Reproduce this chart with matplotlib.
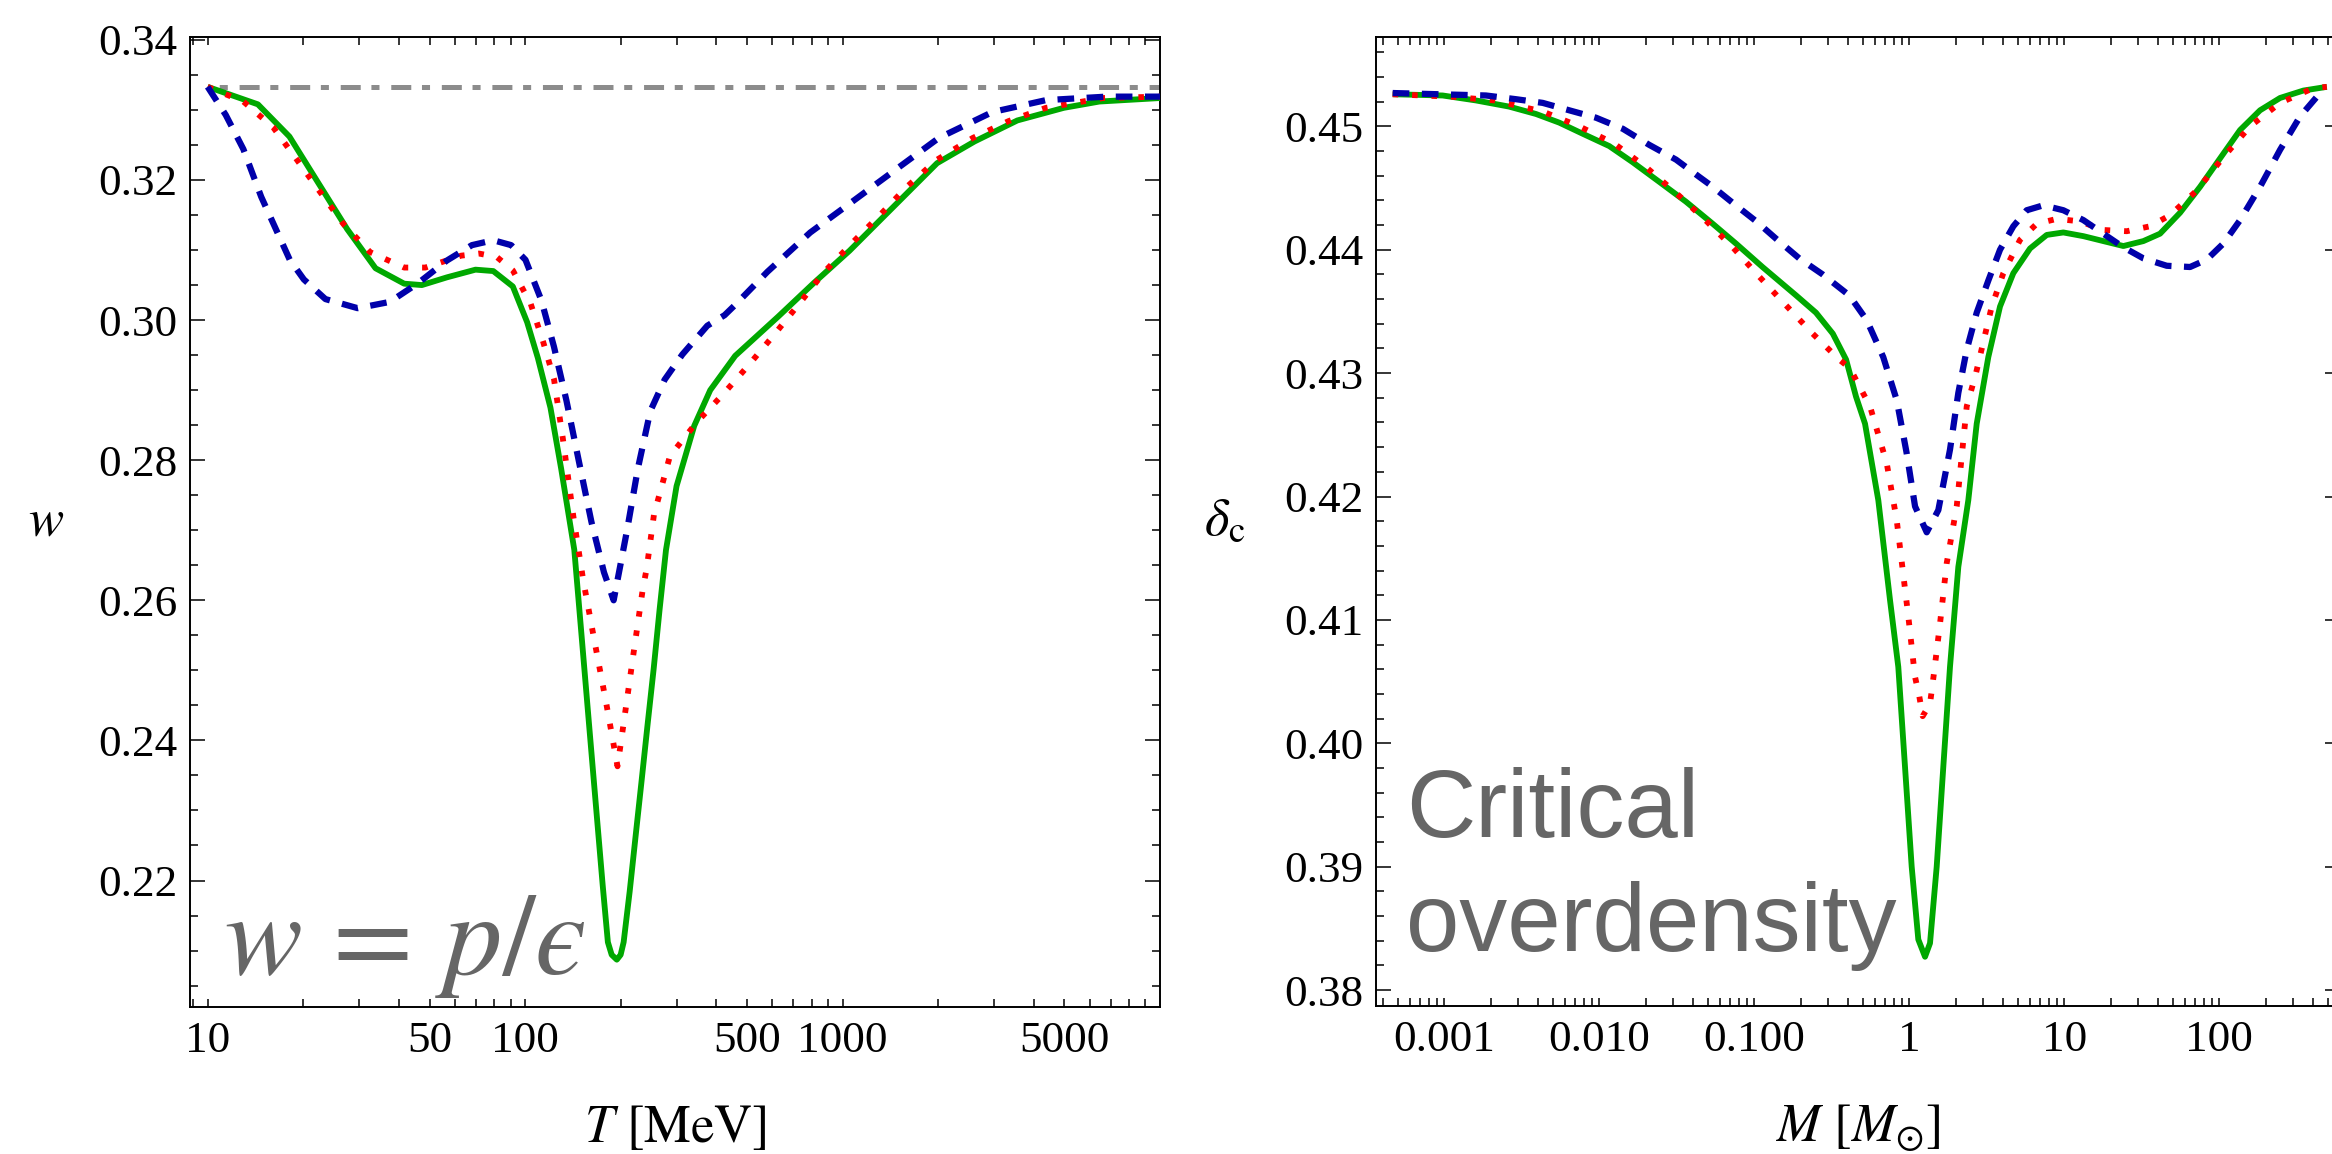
import matplotlib
matplotlib.use("Agg")
import matplotlib.pyplot as plt
from matplotlib.ticker import FixedLocator, FixedFormatter, NullFormatter, MultipleLocator, FormatStrFormatter

plt.rcParams['lines.scale_dashes'] = False
plt.rcParams['mathtext.fontset'] = 'stix'
plt.rcParams['font.family'] = ['Liberation Serif', 'DejaVu Serif']

# ---------------- Left panel: equation of state w(T) ----------------
T_green = [10, 14.4, 18.1, 22.3, 27.5, 33.8, 41.6, 47.3, 56.7, 69.8, 79.4, 91.5, 101.5, 109.7,
           120.2, 129.9, 142.9, 150.8, 159.3, 168.1, 175.6, 182.3, 187.4, 194.5, 200, 204.4,
           213.5, 223, 232.9, 243.2, 254.1, 265.3, 277.9, 300, 341, 383, 459, 627, 812, 1052,
           1363, 1985, 2605, 3553, 4977, 6442, 10000]
w_green = [0.3333, 0.3308, 0.3262, 0.3196, 0.3130, 0.3074, 0.3052, 0.3050, 0.3061, 0.3072, 0.3070,
           0.3048, 0.2997, 0.2946, 0.2875, 0.2788, 0.2672, 0.2547, 0.2419, 0.2294, 0.2193, 0.2112,
           0.2094, 0.2087, 0.2094, 0.2112, 0.2184, 0.2264, 0.2343, 0.2423, 0.2502, 0.2587, 0.2672,
           0.2763, 0.2849, 0.2900, 0.2949, 0.3005, 0.3053, 0.3099, 0.3150, 0.3224, 0.3255, 0.3285,
           0.3303, 0.3312, 0.3317]

T_red = [10, 12.96, 16.1, 19.1, 22.6, 26.8, 32.5, 41.6, 48.5, 62.9, 71.6, 81.5, 91.5, 104.2, 114,
         123.3, 131.5, 142, 152.4, 165.4, 180, 195.5, 206.4, 220, 235, 241.5, 254.6, 286, 347, 422,
         509, 611, 732, 877, 1066, 1312, 1592, 1985, 2571, 3331, 4371, 6614, 10000]
w_red = [0.3333, 0.3312, 0.3275, 0.3229, 0.3183, 0.3137, 0.3097, 0.3075, 0.3075, 0.3092, 0.3095,
         0.3090, 0.3071, 0.3023, 0.2969, 0.2916, 0.2831, 0.2719, 0.2629, 0.2542, 0.2454, 0.2363,
         0.2438, 0.2527, 0.2617, 0.2645, 0.2722, 0.2806, 0.2854, 0.2895, 0.2937, 0.2980, 0.3024,
         0.3069, 0.3109, 0.3150, 0.3190, 0.3229, 0.3260, 0.3284, 0.3303, 0.3317, 0.3319]

T_blue = [10, 11.4, 12.96, 14.75, 16.4, 18.15, 20.1, 23.5, 29.7, 37.5, 46.1, 56.7, 68, 79.4, 90.4,
          100.3, 112.6, 123.3, 135, 147.8, 161.8, 177.2, 190.1, 198.6, 209.7, 226.6, 248, 275.2,
          313, 375, 425, 462, 580, 791, 1080, 1472, 2010, 2965, 4371, 6782, 10000]
w_blue = [0.3333, 0.3293, 0.3244, 0.3176, 0.3130, 0.3086, 0.3058, 0.3030, 0.3017, 0.3026, 0.3053,
          0.3085, 0.3107, 0.3114, 0.3107, 0.3086, 0.3028, 0.2962, 0.2885, 0.2798, 0.2712, 0.2640,
          0.2600, 0.2645, 0.2701, 0.2788, 0.2870, 0.2915, 0.2951, 0.2992, 0.3007, 0.3023, 0.3069,
          0.3125, 0.3170, 0.3215, 0.3260, 0.3297, 0.3314, 0.3319, 0.3319]

T_conformal = [10, 10000]
w_conformal = [1/3, 1/3]

T_ticks = [10, 50, 100, 500, 1000, 5000]
T_ticklabels = ['10', '50', '100', '500', '1000', '5000']

# ---------------- Right panel: critical overdensity delta_c(M) ----------------
M_green = [4.65e-4, 9.77e-4, 1.60e-3, 2.62e-3, 3.91e-3, 5.52e-3, 7.82e-3, 0.0116, 0.0164, 0.0244,
           0.0362, 0.0540, 0.0762, 0.113, 0.186, 0.250, 0.321, 0.391, 0.453, 0.518, 0.631, 0.751,
           0.849, 0.938, 1.036, 1.143, 1.263, 1.360, 1.502, 1.657, 1.830, 2.071, 2.402, 2.721,
           3.233, 3.847, 4.688, 6.007, 7.700, 9.851, 13.27, 17.85, 24.03, 32.34, 41.44, 55.79,
           75.09, 101.0, 136.0, 183.0, 246.4, 348.4, 493.2]
d_green = [0.4526, 0.4525, 0.4521, 0.4516, 0.4510, 0.4503, 0.4494, 0.4484, 0.4471, 0.4455, 0.4439,
           0.4421, 0.4405, 0.4386, 0.4363, 0.4349, 0.4332, 0.4311, 0.4281, 0.4259, 0.4197, 0.4116,
           0.4062, 0.3981, 0.3900, 0.3841, 0.3827, 0.3838, 0.3900, 0.3981, 0.4062, 0.4143, 0.4197,
           0.4259, 0.4313, 0.4354, 0.4381, 0.4401, 0.4412, 0.4414, 0.4411, 0.4407, 0.4403, 0.4407,
           0.4413, 0.4430, 0.4451, 0.4474, 0.4497, 0.4513, 0.4523, 0.4529, 0.4532]

M_red = [4.65e-4, 1.13e-3, 2.10e-3, 4.32e-3, 7.43e-3, 0.0125, 0.0200, 0.0313, 0.0475, 0.0726, 0.108,
         0.160, 0.238, 0.353, 0.414, 0.558, 0.715, 0.829, 0.985, 1.088, 1.160, 1.220, 1.360, 1.443,
         1.578, 1.743, 2.022, 2.346, 2.693, 3.401, 4.042, 5.178, 6.636, 8.933, 12.63, 17.85, 25.27,
         35.73, 48.09, 71.48, 106.1, 157.8, 246.4, 404.1, 493.2]
d_red = [0.4526, 0.4524, 0.4521, 0.4512, 0.4500, 0.4486, 0.4467, 0.4446, 0.4425, 0.4402, 0.4378,
         0.4355, 0.4332, 0.4311, 0.4304, 0.4273, 0.4227, 0.4181, 0.4103, 0.4054, 0.4038, 0.4022,
         0.4032, 0.4057, 0.4097, 0.4146, 0.4192, 0.4273, 0.4300, 0.4354, 0.4381, 0.4408, 0.4421,
         0.4425, 0.4423, 0.4416, 0.4415, 0.4419, 0.4428, 0.4448, 0.4475, 0.4500, 0.4519, 0.4531,
         0.4532]

M_blue = [4.65e-4, 1.86e-3, 2.90e-3, 4.32e-3, 6.40e-3, 9.53e-3, 0.0142, 0.0210, 0.0313, 0.0442,
          0.0540, 0.0726, 0.103, 0.138, 0.195, 0.276, 0.410, 0.531, 0.679, 0.830, 0.962, 1.089,
          1.295, 1.539, 1.830, 2.071, 2.346, 2.721, 3.233, 3.847, 4.688, 5.719, 7.318, 9.851,
          13.27, 17.85, 24.03, 32.34, 45.77, 64.71, 82.95, 106.1, 136.0, 183.0, 246.4, 331.6, 446.4]
d_blue = [0.4527, 0.4525, 0.4522, 0.4519, 0.4513, 0.4507, 0.4498, 0.4485, 0.4473, 0.4459, 0.4451,
          0.4438, 0.4423, 0.4409, 0.4393, 0.4380, 0.4363, 0.4343, 0.4313, 0.4278, 0.4235, 0.4192,
          0.4171, 0.4189, 0.4238, 0.4284, 0.4319, 0.4349, 0.4375, 0.4400, 0.4419, 0.4432, 0.4436,
          0.4432, 0.4424, 0.4413, 0.4402, 0.4393, 0.4387, 0.4386, 0.4392, 0.4405, 0.4424, 0.4451,
          0.4481, 0.4508, 0.4527]

M_ticks = [1e-3, 1e-2, 1e-1, 1, 10, 100]
M_ticklabels = ['0.001', '0.010', '0.100', '1', '10', '100']

# ---------------- styling ----------------
GREEN = '#00a800'
RED = '#ff0000'
BLUE = '#0000aa'
GRAY = '#8c8c8c'
TEXTGRAY = '#666666'
LW = 4.2
TICKFS = 32.5
LABELFS = 38

W, H = 2332, 1154
fig = plt.figure(figsize=(W / 100, H / 100), dpi=100)


def px_axes(l, t, r, b):
    return fig.add_axes([l / W, 1 - b / H, (r - l) / W, (b - t) / H])


def style_axes(ax):
    for s in ax.spines.values():
        s.set_linewidth(1.4)
    ax.tick_params(which='both', direction='in', top=True, right=True,
                   labelsize=TICKFS, width=1.1, color='black')
    ax.tick_params(axis='x', which='both', length=5.8, pad=10)
    ax.tick_params(axis='y', which='major', length=10.8, pad=9)
    ax.tick_params(axis='y', which='minor', length=5.8)


def draw_curves(ax, xg, yg, xr, yr, xb, yb):
    ax.plot(xg, yg, color=GREEN, lw=LW, solid_capstyle='butt', solid_joinstyle='round', zorder=3)
    ax.plot(xr, yr, color=RED, lw=LW, linestyle=(0, (4.0, 10.0)), dash_capstyle='butt', zorder=4)
    ax.plot(xb, yb, color=BLUE, lw=LW + 0.3, linestyle=(0, (12.0, 9.0)), dash_capstyle='butt', zorder=5)


# Left axes
ax1 = px_axes(190, 37.3, 1160, 1007.3)
ax1.set_xscale('log')
ax1.plot(T_conformal, w_conformal, color=GRAY, lw=3.6, linestyle=(14, (14.4, 7.7, 5.8, 8.5)),
         dash_capstyle='butt', zorder=2)
draw_curves(ax1, T_green, w_green, T_red, w_red, T_blue, w_blue)
ax1.set_xlim(8.8, 10000)
ax1.set_ylim(0.2019, 0.34037)
ax1.xaxis.set_major_locator(FixedLocator(T_ticks))
ax1.xaxis.set_major_formatter(FixedFormatter(T_ticklabels))
ax1.xaxis.set_minor_locator(FixedLocator([k * 10 ** e for e in range(0, 4) for k in range(1, 10)]))
ax1.xaxis.set_minor_formatter(NullFormatter())
ax1.yaxis.set_major_locator(MultipleLocator(0.02))
ax1.yaxis.set_minor_locator(MultipleLocator(0.005))
ax1.yaxis.set_major_formatter(FormatStrFormatter('%.2f'))
style_axes(ax1)
ax1.set_xlabel(r'$T\ [\mathrm{MeV}]$', fontsize=LABELFS)
ax1.xaxis.set_label_coords(0.5, -0.1247)
ax1.xaxis.label.set_va('center')
ax1.set_ylabel(r'$w$', fontsize=LABELFS, rotation=0)
ax1.yaxis.set_label_coords(-0.148, 0.5)
ax1.yaxis.label.set_ha('center')
ax1.yaxis.label.set_va('center')
ax1.text(0.035, 0.034, '$w\\,=\\,p/\u03f5$', transform=ax1.transAxes, fontsize=84,
         color=TEXTGRAY, ha='left', va='baseline', zorder=6)

# Right axes
ax2 = px_axes(1376, 37, 2340, 1006)
ax2.set_xscale('log')
draw_curves(ax2, M_green, d_green, M_red, d_red, M_blue, d_blue)
ax2.set_xlim(3.63e-4, 600)
ax2.set_ylim(0.37871, 0.45724)
ax2.xaxis.set_major_locator(FixedLocator(M_ticks))
ax2.xaxis.set_major_formatter(FixedFormatter(M_ticklabels))
ax2.xaxis.set_minor_locator(FixedLocator([k * 10.0 ** e for e in range(-4, 3) for k in range(1, 10)]))
ax2.xaxis.set_minor_formatter(NullFormatter())
ax2.yaxis.set_major_locator(MultipleLocator(0.01))
ax2.yaxis.set_minor_locator(MultipleLocator(0.002))
ax2.yaxis.set_major_formatter(FormatStrFormatter('%.2f'))
style_axes(ax2)
ax2.set_xlabel(r'$M\ [M_{\odot}]$', fontsize=LABELFS)
ax2.xaxis.set_label_coords(0.5, -0.126)
ax2.xaxis.label.set_va('center')
ax2.set_ylabel(r'$\delta_{\mathrm{c}}$', fontsize=LABELFS, rotation=0)
ax2.yaxis.set_label_coords(-0.1566, 0.5)
ax2.yaxis.label.set_ha('center')
ax2.yaxis.label.set_va('center')
ax2.text(0.031, 0.1744, 'Critical', transform=ax2.transAxes, fontsize=69,
         family=['Liberation Sans', 'DejaVu Sans'], color=TEXTGRAY, ha='left', va='baseline', zorder=6)
ax2.text(0.031, 0.0572, 'overdensity', transform=ax2.transAxes, fontsize=69,
         family=['Liberation Sans', 'DejaVu Sans'], color=TEXTGRAY, ha='left', va='baseline', zorder=6)

fig.savefig('out.png', dpi=100)
